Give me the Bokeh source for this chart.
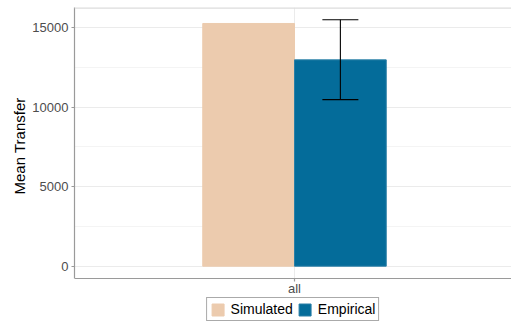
from bokeh.plotting import figure
from bokeh.models import (Range1d, FixedTicker, Legend, LegendItem, Whisker,
                          ColumnDataSource, Span, Title)
from bokeh.core.properties import value
from bokeh.embed import file_html
from bokeh.resources import INLINE

# data
categories = ["all"]
series = ["Simulated", "Empirical"]
simulated_mean = [15270]
empirical_mean = [12980]
empirical_lower = [10480]
empirical_upper = [15500]
y_ticks = [0, 5000, 10000, 15000]
y_minor = [2500, 7500, 12500]

colors = {"Simulated": "#ECCBAE", "Empirical": "#046C9A"}
bar_w = 0.25

# value window of the panel; the frame runs on below it to hold the legend
y_lo, y_hi = -775, 16275
panel_px = 271
frame_px = 314
per_px = (y_hi - y_lo) / panel_px
frame_lo = y_hi - frame_px * per_px

p = figure(width=511, height=321, output_backend="svg", toolbar_location=None,
           frame_width=437, frame_height=frame_px,
           min_border_left=74, min_border_top=7, min_border_right=0, min_border_bottom=0,
           x_axis_location=None,
           x_range=Range1d(0.4005, 1.5913), y_range=Range1d(frame_lo, y_hi))
p.background_fill_color = "white"
p.border_fill_color = "white"
p.outline_line_color = None

# grid: horizontal lines from the y ticks, one vertical line per category
p.xgrid.visible = False
p.ygrid.grid_line_color = "#ebebeb"
p.ygrid.minor_grid_line_color = "#f4f4f4"

pos = [i + 1 for i in range(len(categories))]
p.segment(x0=pos, y0=[y_lo] * len(pos), x1=pos, y1=[y_hi] * len(pos),
          line_color="#ebebeb", line_width=1)

sim_src = ColumnDataSource(dict(x=[v - bar_w / 2 for v in pos], top=simulated_mean))
emp_src = ColumnDataSource(dict(x=[v + bar_w / 2 for v in pos], top=empirical_mean,
                                lo=empirical_lower, hi=empirical_upper))

r_sim = p.vbar(x="x", top="top", bottom=0, width=bar_w, source=sim_src,
               fill_color=colors["Simulated"], line_color=colors["Simulated"])
r_emp = p.vbar(x="x", top="top", bottom=0, width=bar_w, source=emp_src,
               fill_color=colors["Empirical"], line_color="#2a7fa6")

err = Whisker(base="x", lower="lo", upper="hi", source=emp_src,
              line_color="black", line_width=1.1, level="overlay")
for head in (err.upper_head, err.lower_head):
    head.size = 36
    head.line_color = "black"
    head.line_width = 1.1
p.add_layout(err)

# panel border: light top edge, grey bottom axis line
p.add_layout(Span(location=y_hi, dimension="width", line_color="#dcdcdc", line_width=2.4))
p.add_layout(Span(location=y_lo, dimension="width", line_color="#9a9a9a", line_width=1.2))

# category tick and label under the panel
p.segment(x0=pos, y0=[y_lo] * len(pos), x1=pos, y1=[y_lo - 3 * per_px] * len(pos),
          line_color="#9a9a9a", line_width=1.2)
p.text(x=pos, y=[y_lo] * len(pos), text=categories, y_offset=2,
       text_align="center", text_baseline="top", text_color="#4d4d4d",
       text_font_size="13px", text_font=value("Liberation Sans"))

# y axis
ax = p.yaxis[0]
ax.bounds = (y_lo, y_hi)
ax.ticker = FixedTicker(ticks=y_ticks, minor_ticks=y_minor)
ax.axis_line_color = "#9a9a9a"
ax.axis_line_width = 1.2
ax.major_tick_line_color = "#9a9a9a"
ax.major_tick_in = 0
ax.major_tick_out = 3
ax.minor_tick_line_color = None
ax.major_label_text_color = "#4d4d4d"
ax.major_label_text_font = "Liberation Sans"
ax.major_label_text_font_size = "13px"
ax.major_label_standoff = 2

# y title, centred on the value window rather than on the whole frame
ytitle = Title(text="Mean Transfer", align="right", offset=90,
               text_font="Liberation Sans", text_font_style="normal",
               text_font_size="15px", text_color="black", standoff=4)
p.add_layout(ytitle, "left")

legend = Legend(items=[LegendItem(label="Simulated", renderers=[r_sim]),
                       LegendItem(label="Empirical", renderers=[r_emp])],
                orientation="horizontal", location="bottom_center")
legend.border_line_color = "#555555"
legend.border_line_width = 1
legend.label_text_font = "Liberation Sans"
legend.label_text_font_size = "14px"
legend.label_text_color = "black"
legend.glyph_width = 15
legend.glyph_height = 15
legend.label_height = 15
legend.label_standoff = 6
legend.spacing = 4
legend.padding = 3
legend.margin = 0
legend.background_fill_color = "white"
p.add_layout(legend, "center")

open("out.html", "w").write(file_html(p, INLINE))
